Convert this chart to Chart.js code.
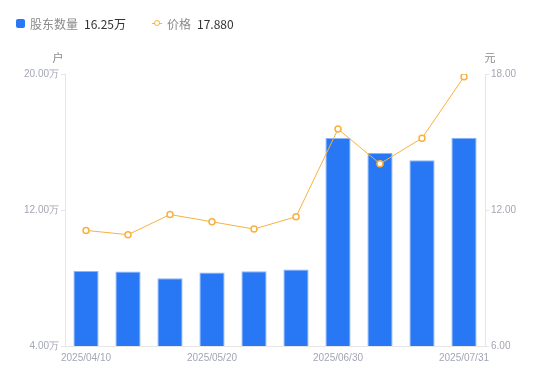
<!DOCTYPE html>
<html>
<head>
<meta charset="utf-8">
<script src="https://cdn.jsdelivr.net/npm/chart.js@4"></script>
<style>
  body { margin: 0; background: #fff; font-family: "Noto Sans CJK SC", "Liberation Sans", sans-serif; }
  #wrap { position: relative; width: 550px; height: 381px; }
  #chart { display: block; }
  #legend { position: absolute; left: 16px; top: 15px; font-size: 12px; display: flex; align-items: center; }
  #legend .item { display: flex; align-items: center; margin-right: 26px; }
  #legend .lab { color: #8a8a8a; margin-right: 6px; }
  #legend .val { color: #333; }
  .sq { width: 9px; height: 9px; background: #2878f5; border-radius: 2px; margin-right: 5px; }
  .mk { position: relative; width: 10px; height: 9px; margin-right: 5px; }
  .mk:before { content: ""; position: absolute; left: 0; right: 0; top: 4px; height: 1px; background: #f8b13e; }
  .mk:after { content: ""; position: absolute; left: 2px; top: 1px; width: 4px; height: 4px; border: 1.5px solid #f8b13e; border-radius: 50%; background: #fff; }
</style>
</head>
<body>
<div id="wrap">
  <canvas id="chart" width="550" height="381"></canvas>
  <div id="legend">
    <div class="item"><span class="sq"></span><span class="lab">股东数量</span><span class="val">16.25万</span></div>
    <div class="item"><span class="mk"></span><span class="lab">价格</span><span class="val">17.880</span></div>
  </div>
</div>
<script>
var dates = ['2025/04/10', '2025/04/18', '2025/04/30', '2025/05/20', '2025/05/31', '2025/06/10', '2025/06/30', '2025/07/10', '2025/07/20', '2025/07/31'];
var holders = [8.41, 8.38, 7.99, 8.32, 8.40, 8.50, 16.23, 15.35, 14.92, 16.25];
var prices = [11.10, 10.91, 11.80, 11.48, 11.16, 11.70, 15.57, 14.04, 15.17, 17.88];
var shownLabels = [0, 3, 6, 9];

var axisTitles = {
  id: 'axisTitles',
  afterDraw: function (chart) {
    var ctx = chart.ctx;
    var top = chart.chartArea.top;
    ctx.save();
    ctx.font = '11px "Noto Sans CJK SC", sans-serif';
    ctx.fillStyle = '#8a8a8a';
    ctx.textAlign = 'center';
    ctx.textBaseline = 'middle';
    ctx.fillText('户', chart.scales.y.right - 7, top - 16);
    ctx.fillText('元', chart.scales.y1.left + 5, top - 16);
    ctx.restore();
  }
};

var ctx = document.getElementById('chart');
var myChart = new Chart(ctx, {
  type: 'bar',
  data: {
    labels: dates,
    datasets: [{
      type: 'line',
      label: '价格',
      data: prices,
      yAxisID: 'y1',
      borderColor: '#f8b13e',
      borderWidth: 1,
      pointRadius: 3,
      pointBorderWidth: 1.5,
      pointBackgroundColor: '#fff',
      pointBorderColor: '#f8b13e',
      tension: 0,
      order: 0
    }, {
      label: '股东数量',
      data: holders,
      yAxisID: 'y',
      backgroundColor: '#2878f5',
      borderColor: '#8db5f6',
      borderWidth: 1,
      barPercentage: 0.6,
      categoryPercentage: 1,
      order: 1
    }]
  },
  options: {
    responsive: false,
    animation: false,
    layout: { padding: { top: 74, left: 0, right: 0, bottom: 0 } },
    plugins: { legend: { display: false }, tooltip: { enabled: false } },
    scales: {
      x: {
        grid: { drawOnChartArea: false, drawTicks: false, color: '#e6e6e6' },
        border: { color: '#e6e6e6' },
        ticks: {
          autoSkip: false,
          maxRotation: 0,
          padding: 6,
          color: '#a3a6b4',
          font: { size: 10, family: '"Liberation Sans", sans-serif' },
          callback: function (v, i) { return shownLabels.indexOf(i) >= 0 ? dates[i] : ''; }
        },
        afterFit: function (s) { s.height = 35; }
      },
      y: {
        position: 'left',
        min: 4, max: 20,
        ticks: {
          stepSize: 8,
          padding: 2,
          color: '#a3a6b4',
          font: { size: 10, family: '"Liberation Sans", sans-serif' },
          callback: function (v) { return v.toFixed(2) + '万'; }
        },
        grid: { drawOnChartArea: false, tickLength: 4, color: '#e6e6e6' },
        border: { color: '#e6e6e6' },
        afterFit: function (s) { s.width = 65; }
      },
      y1: {
        position: 'right',
        min: 6, max: 18,
        ticks: {
          stepSize: 6,
          padding: 2,
          color: '#a3a6b4',
          font: { size: 10, family: '"Liberation Sans", sans-serif' },
          callback: function (v) { return v.toFixed(2); }
        },
        grid: { drawOnChartArea: false, tickLength: 4, color: '#e6e6e6' },
        border: { color: '#e6e6e6' },
        afterFit: function (s) { s.width = 65; }
      }
    }
  },
  plugins: [axisTitles]
});
</script>
</body>
</html>
